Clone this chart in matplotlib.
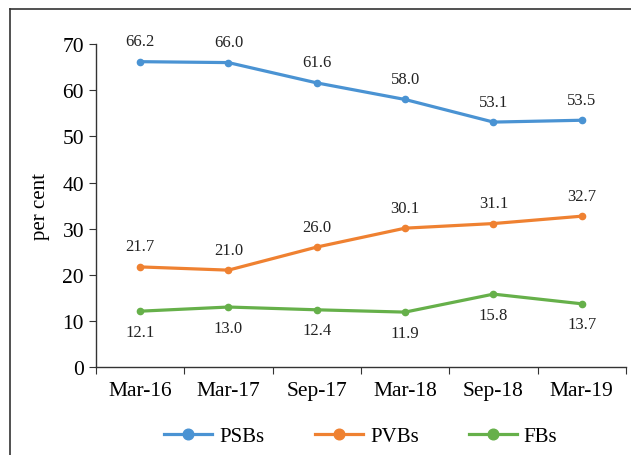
import numpy as np
import matplotlib.pyplot as plt
from matplotlib.lines import Line2D

periods = ["Mar-16", "Mar-17", "Sep-17", "Mar-18", "Sep-18", "Mar-19"]
psbs = [66.2, 66.0, 61.6, 58.0, 53.1, 53.5]
pvbs = [21.7, 21.0, 26.0, 30.1, 31.1, 32.7]
fbs = [12.1, 13.0, 12.4, 11.9, 15.8, 13.7]

plt.rcParams["font.family"] = ["Liberation Serif", "DejaVu Serif"]

fig = plt.figure(figsize=(6.31, 4.56), dpi=100)
ax = fig.add_axes([0.152, 0.193, 0.840, 0.708])

x = np.arange(len(periods))
series = [
    ("PSBs", psbs, "#4a93d3", 9, "bottom"),
    ("PVBs", pvbs, "#ef8131", 9, "bottom"),
    ("FBs", fbs, "#66b04a", -9, "top"),
]
for name, vals, col, off, va in series:
    ax.plot(x, vals, color=col, lw=2.3, marker="o", ms=4.5, label=name)
    for xi, v in zip(x, vals):
        ax.annotate(f"{v:.1f}", (xi, v), xytext=(0, off), textcoords="offset points",
                    ha="center", va=va, fontsize=12, color="#222222")

ax.set_xlim(-0.5, 5.5)
ax.set_ylim(0, 70)
ax.set_yticks(range(0, 71, 10))
ax.set_xticks(np.arange(-0.5, 6, 1))
ax.set_xticklabels([])
ax.set_xticks(x, minor=True)
ax.set_xticklabels(periods, minor=True)
ax.tick_params(axis="x", which="minor", length=0, pad=10, labelsize=15.5)
ax.tick_params(axis="x", which="major", length=5, direction="out", color="#333333")
ax.tick_params(axis="y", length=5, direction="out", labelsize=15.5, color="#333333")
for s in ["top", "right"]:
    ax.spines[s].set_visible(False)
for s in ["left", "bottom"]:
    ax.spines[s].set_color("#333333")
    ax.spines[s].set_linewidth(1.0)
ax.set_ylabel("per cent", fontsize=15, labelpad=9)

fig.legend(loc="center", bbox_to_anchor=(0.572, 0.041), ncol=3, frameon=False,
           fontsize=15, handlelength=2.3, columnspacing=2.4, handletextpad=0.35,
           markerscale=1.7)

# frame around the chart panel
fig.add_artist(Line2D([0.016, 0.016], [0.0, 0.978], color="#333333", lw=1.2))
fig.add_artist(Line2D([0.016, 1.0], [0.978, 0.978], color="#333333", lw=1.2))

fig.savefig("out.png", dpi=100)
